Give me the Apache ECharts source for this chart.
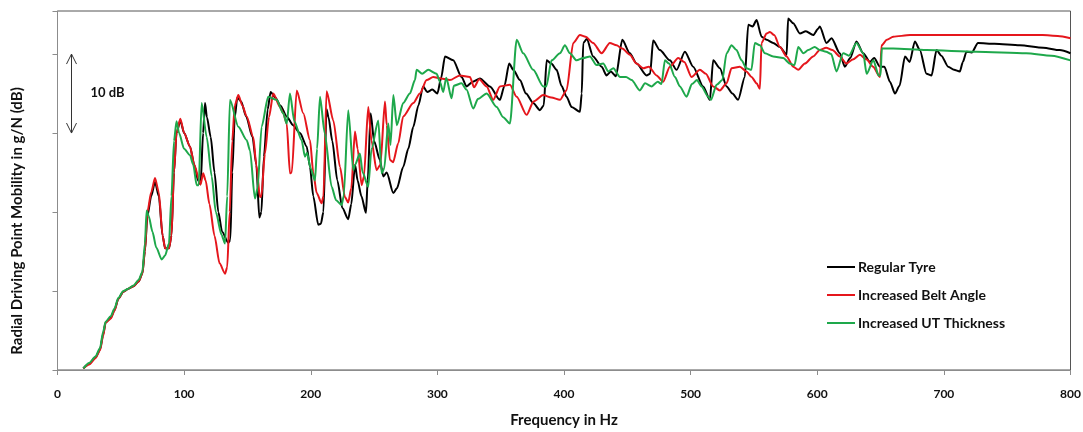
<!DOCTYPE html>
<html>
<head>
<meta charset="utf-8">
<script src="https://cdn.jsdelivr.net/npm/echarts@6/dist/echarts.min.js"></script>
<style>
  html, body { margin: 0; padding: 0; background: #fff; }
  #chart { width: 1083px; height: 432px; }
</style>
</head>
<body>
<div id="chart"></div>
<script>
// [frequency Hz, mobility dB]
const regularTyre = [
  [20.4,0.2],[25,0.8],[30,1.6],[33.6,2.6],[36,4.5],[38,6.0],[42,6.6],[45,7.6],[48,9.0],[52,9.9],[56,10.3],[60,10.6],[64,11.2],[67,12.2],
  [69,15],[71,19.5],[74,22],[77,23.8],[80,22],[83,17],[85,15.4],[88,15.4],[90,17],[92,25],[94,30],[97,31.6],[100,30],[104.6,28.3],[108,26],[111,24],[113,23.5],
  [115,30],[116.5,33.8],[118,32],[121,29.5],[124,25],[127,20],[130,17.5],[134.9,16.1],[136.5,16.5],[138,25],[140,32],[142,34.5],[145,34],[149,32.1],[154,29.5],[157,26],
  [159.4,19.3],[161,20],[163,27],[166,33],[168.3,35.2],[172,34.5],[176,33.5],[181,32.1],[186,31],[191.5,30],[196.8,28.3],[199.4,25.7],[202,22],[205.9,18.4],[208,18.5],
  [210,20],[212.5,33],[214,32],[217,29],[221,24],[225,20.5],[229.6,19.1],[232,21],[235,26],[237,24],[240,22],[243.6,19.9],[245,24],[247.3,32.5],[250,29],[254.6,26.6],
  [257.3,24.5],[260,25],[265.2,22.4],[268,23],[273,25.7],[277,28],[281,30.8],[285,33.5],[288.8,35.9],[292,35.2],[296,35.5],[300,35],[303,37],[306,39.7],[312.5,39.2],
  [319.1,37.1],[323,35.9],[328,36.5],[333.6,36.9],[341.5,35.9],[349.4,34.2],[353,36],[356.7,38.8],[360,38],[365.2,36.7],[370,35],[375.7,33.8],[381,32.9],[384,33.5],
  [386.3,39.2],[390,38.8],[394.2,38],[398,36],[402,34.6],[406,33.3],[412.6,32.7],[414,35],[415.2,41.4],[418,41.9],[423,39.7],[429.7,38.4],[433.6,37.3],[437,37.8],
  [441,37.2],[446,41.8],[452,40.1],[457.3,38.8],[465.2,37.3],[468,37.5],[470.4,41.7],[475.7,40.5],[483.6,39.2],[488.9,38],[495.5,40.3],[502,38.4],[509.9,35.9],
  [515.2,34.2],[517.8,39.2],[523.1,38.2],[528.4,35.9],[533,35],[537.5,34.2],[542.8,37.1],[545.5,43.7],[549,43.5],[552.1,44.3],[556,42.2],[560,41.8],[565.2,41.4],
  [570.5,40.9],[575.8,39.9],[577,44.5],[581,43.9],[586.3,42.6],[591,42.9],[596.8,42.4],[600.7,43.2],[602,43.5],[607.3,41.4],[611.3,42],[617.8,40.1],[621.8,38.4],
  [626,39.5],[631,41.6],[636.3,40.1],[641.6,39],[645,39.5],[649.5,38.4],[653,38.4],[657.4,36.5],[661.4,35],[665,36],[669.3,39.7],[673,39],[677.1,41.6],[681,40.5],
  [686.3,37.5],[690.3,37.3],[694.2,40.5],[698,39.8],[703.4,38.4],[708,38],[712.6,37.8],[715,39],[717.9,40.3],[722,40.2],[727,41.4],[740,41.3],[760,41.1],
  [778.4,40.8],[791.5,40.5],[800,40.1]
];
const beltAngle = [
  [20.4,0.2],[25,0.7],[30,1.5],[33.6,2.5],[36,4.3],[38,6.0],[42,6.5],[45,7.5],[48,9.0],[52,9.9],[56,10.3],[60,10.6],[64,11.2],[67,12.2],
  [69,15],[71,20],[74,22.5],[77,24.3],[80,22.5],[83,17],[85,15.4],[88,15.4],[90,17],[92,25],[94,30],[97,31.8],[100,30],[104.6,28.3],[108,26],[112,24],[113,23.5],
  [115,24.9],[117,24],[120,21],[124,17],[128,13.5],[132.3,12.2],[134,13],[136,20],[138,29],[140,33.5],[142.8,34.8],[146,33.5],[149.4,32.1],[154.6,29.5],[157,26],
  [159.9,21.9],[161,22],[163.8,27.4],[167,32],[170.4,35],[175.7,33.3],[178.3,32.5],[181,31.2],[183.6,24.9],[185,25],[188.9,35.4],[194.1,32.5],[199.4,29.1],
  [202,25],[204.7,22.4],[208.6,21.1],[210,22],[212.5,35.3],[217.8,31.6],[223.1,25.7],[227,21.9],[229.6,21.2],[232,23],[234.9,30.2],[237,28],[240.2,23.4],[242,24.5],
  [245.4,33.3],[248,29],[252,25.3],[255,26],[258.6,34],[260,31],[262.5,26.6],[265,26.3],[269.1,28.7],[273,32.1],[281,33.8],[286.2,35],[291.5,36.7],[296.7,37.1],
  [303,36.9],[309.9,36.7],[317.8,37.3],[325.7,37.1],[329,35.8],[333,36.8],[338.9,35.9],[344.1,34.2],[349.4,35.9],[357.3,36.1],[362.6,34.6],[370.5,32.3],[376,34],
  [383.6,34.8],[390,34.5],[396.8,34.2],[402,35.4],[407.3,41.4],[412.6,42.4],[417,42.2],[423,41.4],[429.7,40.1],[436.2,41.4],[441.5,41.1],[446,40.7],[452,39.9],
  [457.3,38.8],[462.5,38.2],[467,38.4],[473.1,37.3],[478.3,36.5],[483.6,38.4],[490.2,39.5],[495,39],[500.7,37.1],[507.3,38],[512,37.5],[517.8,35.9],[523.1,35.4],
  [528.4,36.3],[532.3,38.2],[538.9,38.4],[544,37.8],[548.1,37.1],[552.1,36.3],[554.7,35.6],[556,41.4],[560,42.6],[562.6,42.8],[566,42.4],[570.5,40.9],[575.8,39.7],
  [581,38.4],[585,38],[590.2,38.8],[596.8,39.7],[602,40.5],[607,40.8],[612,40.5],[617.8,39.7],[623,38.8],[628,39.3],[633.7,39.9],[639,39.3],[644.1,38.4],[649.5,37.1],
  [650.8,41.1],[655,41.8],[660,42.2],[673.3,42.4],[700,42.4],[750,42.4],[778,42.4],[790,42.3],[800,42]
];
const utThickness = [
  [20.4,0.2],[25,0.9],[30,1.7],[33.6,2.8],[36,4.8],[38,6.1],[42,6.8],[45,7.8],[48,9.1],[52,10.0],[56,10.3],[60,10.7],[64,11.4],[67,12.4],
  [69,16],[70.4,20.2],[72,19.5],[75,17.5],[78,15.5],[82.3,14],[85,14.5],[88,16],[90,22],[92,29],[94,31.5],[96,30],[100,28],[104.6,27.2],[107.2,26],[109.9,23.4],
  [111.5,23.4],[113.8,33.8],[117.8,29.5],[121.8,24.5],[125,20],[129.6,17.1],[132.3,16],[134,22],[136.2,34.2],[142.8,30.8],[149.4,29.1],[152,27.8],[155.9,21.7],
  [158,23],[161.2,30.8],[166.4,34.6],[173,34.2],[178.3,32.5],[181,31.2],[183.6,35],[187,31.5],[192.8,29.1],[195.4,27],[197,27.5],[200,25.5],[203.3,24],[205,28],
  [207.3,34.6],[211,30],[216.5,23.2],[220,21.5],[224.4,20.9],[226,22],[229.6,32.9],[233.6,25.3],[235,26],[238.8,27.4],[241,25],[245.4,23.2],[248,28],[253.3,31.6],
  [256,24.9],[258,25.5],[261.2,31.2],[263,28.5],[265.2,34.8],[268,31],[273,33.8],[278.3,35],[282.3,36.7],[283.6,38],[288,37.5],[292.8,38],[299.4,37.5],[302,36.5],
  [304.6,35.2],[307,37],[311.2,34.4],[313,36],[319.1,36.3],[323,35.5],[328.3,33.1],[332,34.3],[338.9,35],[346.8,33.3],[352,32],[357.3,31.2],[362.6,41.8],[367.8,40.1],
  [375.7,38],[383.6,35.9],[386,35.9],[390.2,39.2],[396.8,40.1],[400.7,41.1],[404.7,40.1],[409.9,39.2],[415.2,39.5],[420.5,39.7],[425.7,38.6],[431,38.8],[435,37.8],
  [439,38.2],[444.1,37.1],[449,37.1],[453.4,36.7],[459.9,35.4],[464,36.3],[469.2,35.9],[474,36.5],[477,36.2],[479.7,39.2],[483,38.8],[487.6,37.1],[491.5,35.9],
  [496.8,34.6],[501,36.2],[505,36.7],[508.6,35.9],[513.9,34.6],[516,34.2],[520.5,36.1],[525,36.7],[528.4,40.1],[532.3,41.1],[536.2,40.5],[540.2,39.2],[544.1,38.2],
  [548,38],[550.7,41.4],[554.7,41.1],[558.7,40.1],[565.2,39.7],[573.1,39.5],[578.3,38.8],[582,38.6],[585,40.9],[589,40.1],[592.9,40.5],[598,40.9],[602,40.5],
  [607,40.3],[611,40],[615.2,37.8],[620.5,40.1],[625,39.8],[631,41.4],[636.3,40.1],[639,37.5],[644.3,39.2],[648.5,37.3],[650,37.3],[651,40.7],[660,40.7],
  [686.3,40.5],[725.5,40.3],[765,40.1],[785,39.8],[800,39.2]
];
const seriesNames = ['Regular Tyre', 'Increased Belt Angle', 'Increased UT Thickness'];
const seriesColors = ['#000000', '#e5161c', '#1ea84b'];
const freqTicks = [0, 100, 200, 300, 400, 500, 600, 700, 800];
const arrowSpan = [30, 40]; // the "10 dB" scale arrow
const arrowFreq = 10.7;

const font = 'Lato, "Open Sans", sans-serif';
const chart = echarts.init(document.getElementById('chart'));

const lines = [regularTyre, beltAngle, utThickness].map((d, i) => ({
  name: seriesNames[i],
  type: 'line',
  data: d,
  showSymbol: false,
  smooth: 0.25,
  smoothMonotone: 'x',
  color: seriesColors[i],
  lineStyle: { width: 2, color: seriesColors[i] },
  animation: false
}));

chart.setOption({
  animation: false,
  grid: {
    left: 57.5, right: 12.5, top: 11, bottom: 62,
    outerBoundsMode: 'none', containLabel: false,
    show: true, borderColor: '#555', borderWidth: 1
  },
  legend: {
    orient: 'vertical', left: 827, top: 259, padding: 0,
    itemWidth: 28, itemHeight: 2, itemGap: 12, icon: 'rect',
    data: seriesNames,
    textStyle: { fontFamily: font, fontWeight: 'bold', fontSize: 14, color: '#111', lineHeight: 16, padding: [0, 0, 0, -2] }
  },
  xAxis: {
    type: 'value', min: freqTicks[0], max: freqTicks[freqTicks.length - 1], interval: 100,
    name: 'Frequency in Hz', nameLocation: 'middle', nameGap: 43,
    nameTextStyle: { fontFamily: font, fontWeight: 'bold', fontSize: 15, color: '#111' },
    axisLine: { lineStyle: { color: '#8c8c8c', width: 1 } },
    axisTick: { show: true, length: 5, lineStyle: { color: '#8c8c8c' } },
    axisLabel: { margin: 18, fontFamily: font, fontWeight: 'bold', fontSize: 12, color: '#111' },
    splitLine: { show: false }
  },
  yAxis: {
    type: 'value', min: 0, max: 45.45, interval: 10,
    axisLine: { show: true, lineStyle: { color: '#8c8c8c', width: 1 } },
    axisTick: { show: true, length: 5, lineStyle: { color: '#8c8c8c' } },
    axisLabel: { show: false },
    splitLine: { show: false }
  },
  series: lines
});

// scale arrow and titles, placed through the axes
const pTop = chart.convertToPixel({ xAxisIndex: 0, yAxisIndex: 0 }, [arrowFreq, arrowSpan[1]]);
const pBot = chart.convertToPixel({ xAxisIndex: 0, yAxisIndex: 0 }, [arrowFreq, arrowSpan[0]]);
const ax = Math.round(pTop[0]) + 0.5;
const arrowStyle = { stroke: '#333', lineWidth: 1, fill: null };
chart.setOption({
  graphic: [
    { type: 'line', shape: { x1: ax, y1: pTop[1], x2: ax, y2: pBot[1] }, style: arrowStyle },
    { type: 'polyline', shape: { points: [[ax - 5, pTop[1] + 10], [ax, pTop[1]], [ax + 5, pTop[1] + 10]] }, style: arrowStyle },
    { type: 'polyline', shape: { points: [[ax - 5, pBot[1] - 10], [ax, pBot[1]], [ax + 5, pBot[1] - 10]] }, style: arrowStyle },
    {
      type: 'text', x: ax + 19, y: (pTop[1] + pBot[1]) / 2 - 1,
      style: { text: '10 dB', fontFamily: font, fontWeight: 'bold', fontSize: 13, fill: '#111', align: 'left', verticalAlign: 'middle' }
    },
    {
      type: 'text', x: 17, y: 221, rotation: Math.PI / 2,
      style: {
        text: 'Radial Driving Point Mobility in g/N (dB)', fontFamily: font, fontWeight: 'bold', fontSize: 15,
        fill: '#111', align: 'center', verticalAlign: 'middle'
      }
    }
  ]
});
</script>
</body>
</html>
